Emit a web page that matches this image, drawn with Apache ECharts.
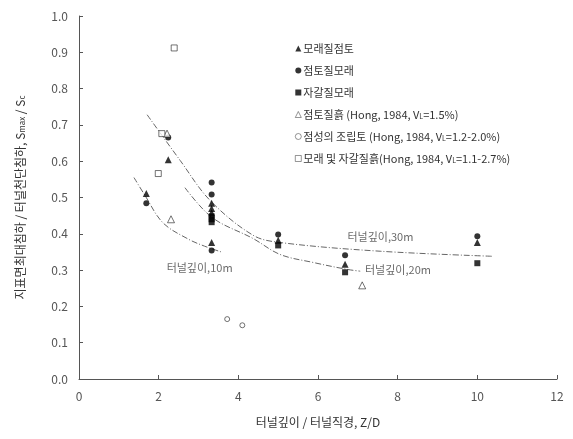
<!DOCTYPE html>
<html><head><meta charset="utf-8">
<script src="https://cdn.jsdelivr.net/npm/echarts@6/dist/echarts.min.js"></script>
<style>html,body{margin:0;padding:0;background:#fff}#c{width:573px;height:439px}</style>
</head><body><div id="c"></div>
<script>
const xTicks = [0, 2, 4, 6, 8, 10, 12];
const yTicks = [0.0, 0.1, 0.2, 0.3, 0.4, 0.5, 0.6, 0.7, 0.8, 0.9, 1.0];

const seriesNames = [
  '모래질점토',
  '점토질모래',
  '자갈질모래',
  '점토질흙 (Hong, 1984, V{s|L}=1.5%)',
  '점성의 조립토 (Hong, 1984, V{s|L}=1.2-2.0%)',
  '모래 및 자갈질흙(Hong, 1984, V{s|L}=1.1-2.7%)'
];

const triX = [1.69, 2.24, 3.33, 3.33, 3.33, 3.33, 5.0, 6.68, 10.0];
const triY = [0.511, 0.604, 0.376, 0.484, 0.47, 0.458, 0.382, 0.316, 0.376];
const circX = [1.69, 2.24, 3.33, 3.33, 3.33, 5.0, 6.68, 10.0];
const circY = [0.484, 0.665, 0.541, 0.508, 0.354, 0.398, 0.341, 0.393];
const sqX = [3.33, 3.33, 3.33, 5.0, 6.68, 10.0];
const sqY = [0.448, 0.44, 0.432, 0.368, 0.294, 0.319];
const oTriX = [2.21, 2.31, 7.11];
const oTriY = [0.676, 0.44, 0.258];
const oCircX = [3.72, 4.1];
const oCircY = [0.165, 0.148];
const oSqX = [2.39, 2.08, 1.99];
const oSqY = [0.912, 0.676, 0.566];

const c10X = [1.38, 1.66, 2.11, 2.75, 3.15, 3.6];
const c10Y = [0.555, 0.505, 0.43, 0.385, 0.366, 0.349];
const c20X = [2.66, 3.34, 4.37, 5.05, 5.88, 6.73, 7.06];
const c20Y = [0.527, 0.445, 0.387, 0.343, 0.321, 0.302, 0.297];
const c30X = [1.71, 2.54, 3.29, 4.37, 5.05, 7.56, 10.4];
const c30Y = [0.728, 0.602, 0.492, 0.396, 0.376, 0.352, 0.338];

const curveLabels = ['터널깊이,10m', '터널깊이,20m', '터널깊이,30m'];
const labelPos = [[2.2, 0.307], [7.18, 0.3], [6.74, 0.393]];

const zip = (a, b) => a.map((v, i) => [v, b[i]]);
const FONT = '"Noto Sans CJK KR", "Noto Sans", sans-serif';
const GRAY = '#555';

function scatter(name, xs, ys, symbol, size, open) {
  return {
    name: name, type: 'scatter', data: zip(xs, ys), symbol: symbol, symbolSize: size,
    itemStyle: open ? { color: '#fff', borderColor: '#222', borderWidth: 0.8 } : { color: '#000' },
    z: 5
  };
}
function curve(xs, ys) {
  return {
    type: 'line', data: zip(xs, ys), smooth: 0.35, symbol: 'none', silent: true,
    lineStyle: { color: '#666', width: 1, type: [6, 2, 1, 2] }, z: 2
  };
}

const chart = echarts.init(document.getElementById('c'));
chart.setOption({
  animation: false,
  textStyle: { fontFamily: FONT },
  grid: { left: 79, right: 16, top: 16, bottom: 60 },
  xAxis: {
    type: 'value', min: 0, max: 12, interval: 2,
    name: '터널깊이 / 터널직경, Z/D', nameLocation: 'middle', nameGap: 37,
    nameTextStyle: { fontSize: 12, color: '#333', fontFamily: FONT },
    axisLine: { lineStyle: { color: GRAY } },
    axisTick: { inside: true, length: 4, lineStyle: { color: GRAY } },
    axisLabel: { fontSize: 12, color: GRAY, margin: 11, fontFamily: FONT },
    splitLine: { show: false }
  },
  yAxis: {
    type: 'value', min: 0, max: 1, interval: 0.1,
    name: '지표면최대침하 / 터널천단침하, S{s|max} / S{s|c}', nameLocation: 'middle', nameGap: 53,
    nameTextStyle: { fontSize: 12, color: '#333', fontFamily: FONT,
      rich: { s: { fontSize: 8, color: '#333', verticalAlign: 'bottom', padding: [4, 0, 0, 0] } } },
    axisLine: { show: true, lineStyle: { color: GRAY } },
    axisTick: { show: true, inside: true, length: 4, lineStyle: { color: GRAY } },
    axisLabel: { fontSize: 12, color: GRAY, margin: 11, fontFamily: FONT,
      formatter: v => v.toFixed(1) },
    splitLine: { show: false }
  },
  legend: {
    orient: 'vertical', left: 290, top: 38, itemGap: 11, itemWidth: 6, itemHeight: 6,
    data: seriesNames, selectedMode: false,
    itemStyle: { borderWidth: 0.6 },
    textStyle: { fontSize: 11, color: '#333', fontFamily: FONT, padding: [0, 0, 0, -3],
      rich: { s: { fontSize: 7, color: '#333', padding: [4, 0, 0, 0] } } }
  },
  series: [
    scatter(seriesNames[0], triX, triY, 'triangle', 7, false),
    scatter(seriesNames[1], circX, circY, 'circle', 6, false),
    scatter(seriesNames[2], sqX, sqY, 'rect', 6, false),
    scatter(seriesNames[3], oTriX, oTriY, 'triangle', 7, true),
    scatter(seriesNames[4], oCircX, oCircY, 'circle', 5, true),
    scatter(seriesNames[5], oSqX, oSqY, 'rect', 6, true),
    curve(c10X, c10Y), curve(c20X, c20Y), curve(c30X, c30Y),
    {
      type: 'scatter', symbolSize: 0, silent: true,
      data: curveLabels.map((t, i) => ({ value: labelPos[i], name: t })),
      label: { show: true, formatter: p => p.name, position: 'right', distance: 0,
        fontSize: 11, color: '#444', fontFamily: FONT }
    }
  ]
});
</script></body></html>
